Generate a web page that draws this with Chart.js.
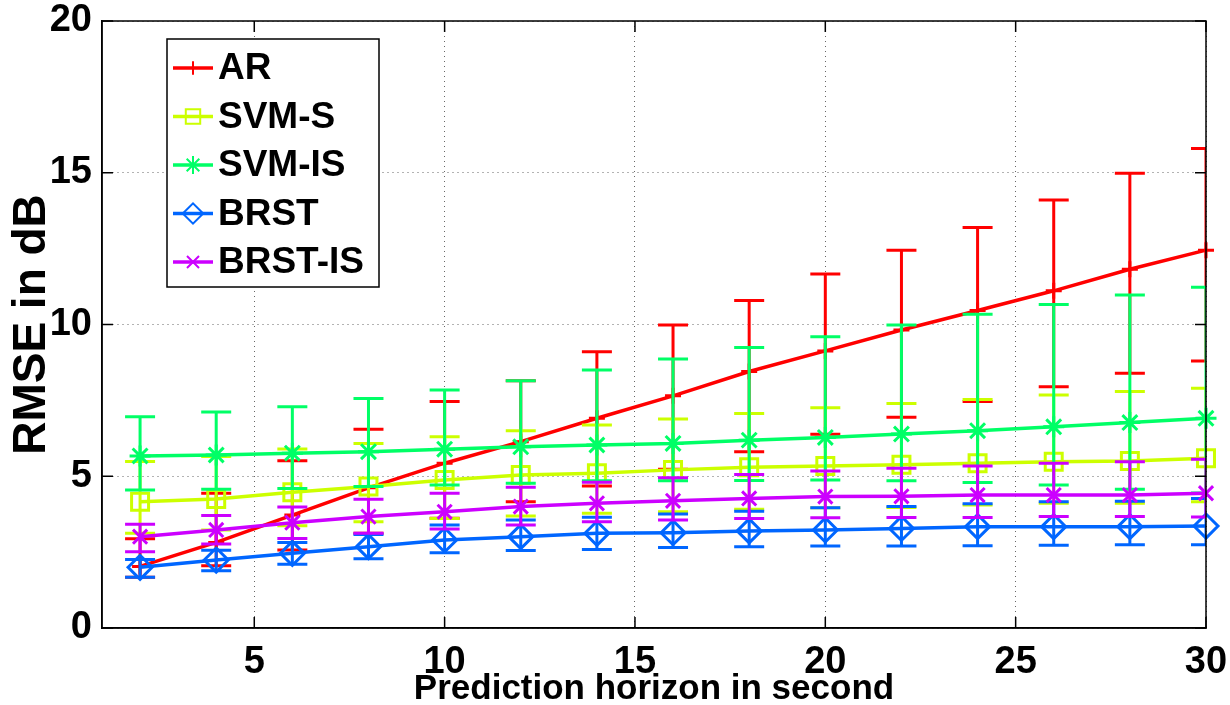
<!DOCTYPE html>
<html>
<head>
<meta charset="utf-8">
<script src="https://cdn.jsdelivr.net/npm/chart.js@4.4.0/dist/chart.umd.min.js"></script>
<style>
  html, body { margin: 0; padding: 0; background: #fff; }
  #wrap { width: 1230px; height: 705px; }
</style>
</head>
<body>
<div id="wrap"><canvas id="rmseChart" width="1230" height="705"></canvas></div>
<script>
// prediction horizon (s)
const horizon = [2, 4, 6, 8, 10, 12, 14, 16, 18, 20, 22, 24, 26, 28, 30];
const xTicks = [5, 10, 15, 20, 25, 30];
const yTicks = [0, 5, 10, 15, 20];

const names = ["AR", "SVM-S", "SVM-IS", "BRST", "BRST-IS"];
const colors = ["#ff0000", "#ccff00", "#00ff66", "#0066ff", "#cc00ff"];

// RMSE means and error bar ends
const arMean = [2.03, 2.82, 3.72, 4.62, 5.43, 6.14, 6.91, 7.65, 8.45, 9.13, 9.82, 10.46, 11.11, 11.82, 12.45];
const arHigh = [2.94, 4.44, 5.51, 6.55, 7.46, 8.15, 9.10, 9.98, 10.79, 11.66, 12.45, 13.20, 14.10, 14.98, 15.80];
const arLow = [1.67, 2.05, 2.57, 3.12, 3.62, 4.16, 4.68, 5.23, 5.81, 6.38, 6.94, 7.46, 7.95, 8.39, 8.80];

const svmsMean = [4.16, 4.25, 4.47, 4.66, 4.88, 5.04, 5.10, 5.21, 5.30, 5.34, 5.38, 5.43, 5.48, 5.50, 5.59];
const svmsHigh = [5.49, 5.65, 5.90, 6.08, 6.30, 6.50, 6.69, 6.89, 7.07, 7.26, 7.40, 7.53, 7.68, 7.79, 7.90];
const svmsLow = [3.12, 3.23, 3.37, 3.50, 3.61, 3.69, 3.78, 3.83, 3.91, 3.96, 3.97, 4.05, 4.11, 4.11, 4.16];

const svmisMean = [5.67, 5.70, 5.76, 5.81, 5.89, 5.97, 6.03, 6.08, 6.19, 6.28, 6.39, 6.50, 6.63, 6.77, 6.91];
const svmisHigh = [6.96, 7.12, 7.29, 7.56, 7.84, 8.15, 8.50, 8.86, 9.24, 9.60, 9.98, 10.34, 10.66, 10.97, 11.23];
const svmisLow = [4.55, 4.57, 4.60, 4.66, 4.71, 4.77, 4.85, 4.85, 4.86, 4.88, 4.85, 4.79, 4.71, 4.57, 4.45];

const brstMean = [2.00, 2.24, 2.46, 2.68, 2.90, 3.01, 3.12, 3.14, 3.20, 3.23, 3.28, 3.34, 3.34, 3.34, 3.36];
const brstHigh = [2.26, 2.56, 2.82, 3.08, 3.39, 3.56, 3.65, 3.76, 3.85, 3.96, 4.00, 4.09, 4.16, 4.18, 4.27];
const brstLow = [1.67, 1.89, 2.10, 2.28, 2.48, 2.55, 2.59, 2.65, 2.68, 2.70, 2.70, 2.71, 2.73, 2.74, 2.74];

const brstisMean = [3.01, 3.23, 3.47, 3.67, 3.83, 4.00, 4.11, 4.19, 4.27, 4.33, 4.34, 4.38, 4.38, 4.38, 4.44];
const brstisHigh = [3.42, 3.71, 3.99, 4.24, 4.44, 4.64, 4.80, 4.95, 5.06, 5.17, 5.26, 5.34, 5.43, 5.48, 5.56];
const brstisLow = [2.51, 2.77, 2.95, 3.12, 3.26, 3.39, 3.50, 3.56, 3.61, 3.63, 3.64, 3.64, 3.67, 3.67, 3.66];

const FONT = "'Liberation Sans', Arial, Helvetica, sans-serif";

function series(i, mean, low, high, style, radius) {
  return {
    label: names[i],
    data: horizon.map((h, k) => ({ x: h, y: mean[k] })),
    errLow: low,
    errHigh: high,
    borderColor: colors[i],
    backgroundColor: "rgba(0,0,0,0)",
    borderWidth: 3.5,
    pointStyle: style,
    pointRadius: radius,
    pointBorderWidth: 3,
    pointBorderColor: colors[i],
    pointBackgroundColor: "rgba(0,0,0,0)",
    tension: 0,
    fill: false,
    clip: false,
    order: names.length - i,
  };
}

// vertical error bars with caps, drawn right before each line
const errorBars = {
  id: "errorBars",
  beforeDatasetDraw(chart, args) {
    const ds = chart.data.datasets[args.index];
    if (!ds.errLow) return;
    const { ctx, chartArea: a } = chart;
    const xs = chart.scales.x, ys = chart.scales.y;
    ctx.save();
    ctx.beginPath();
    ctx.rect(a.left, a.top, a.right - a.left, a.bottom - a.top);
    ctx.clip();
    ctx.strokeStyle = ds.borderColor;
    ctx.lineWidth = 3;
    ds.data.forEach((p, k) => {
      const px = xs.getPixelForValue(p.x);
      const top = ys.getPixelForValue(ds.errHigh[k]);
      const bot = ys.getPixelForValue(ds.errLow[k]);
      ctx.beginPath();
      ctx.moveTo(px, top); ctx.lineTo(px, bot);
      ctx.moveTo(px - 15, top); ctx.lineTo(px + 15, top);
      ctx.moveTo(px - 15, bot); ctx.lineTo(px + 15, bot);
      ctx.stroke();
    });
    ctx.restore();
  },
};

// matlab style box with inward ticks, plus the boxed legend
const frameAndLegend = {
  id: "frameAndLegend",
  afterDraw(chart) {
    const { ctx, chartArea: a } = chart;
    const xs = chart.scales.x, ys = chart.scales.y;
    ctx.save();
    ctx.strokeStyle = "#000";
    ctx.lineWidth = 1.5;
    ctx.strokeRect(a.left, a.top, a.right - a.left, a.bottom - a.top);
    ctx.beginPath();
    xTicks.forEach(v => {
      const px = xs.getPixelForValue(v);
      ctx.moveTo(px, a.bottom); ctx.lineTo(px, a.bottom - 11);
      ctx.moveTo(px, a.top); ctx.lineTo(px, a.top + 11);
    });
    yTicks.forEach(v => {
      const py = ys.getPixelForValue(v);
      ctx.moveTo(a.left, py); ctx.lineTo(a.left + 11, py);
      ctx.moveTo(a.right, py); ctx.lineTo(a.right - 11, py);
    });
    ctx.stroke();

    const left = a.left + 65, top = a.top + 18, w = 212, h = 248;
    ctx.fillStyle = "#fff";
    ctx.fillRect(left, top, w, h);
    ctx.strokeRect(left, top, w, h);
    chart.data.datasets.forEach((ds, i) => {
      const cy = top + 29 + i * 48.5;
      ctx.strokeStyle = ds.borderColor;
      ctx.lineWidth = 3.5;
      ctx.beginPath();
      ctx.moveTo(left + 6, cy); ctx.lineTo(left + 46, cy);
      ctx.stroke();
      ctx.lineWidth = 2;
      ctx.fillStyle = "rgba(0,0,0,0)";
      Chart.helpers.drawPoint(ctx, {
        pointStyle: ds.pointStyle,
        radius: ds.pointRadius * 0.85,
        borderWidth: 2,
        rotation: 0,
      }, left + 26, cy);
      ctx.fillStyle = "#000";
      ctx.font = "bold 37px " + FONT;
      ctx.textBaseline = "middle";
      ctx.textAlign = "left";
      ctx.fillText(ds.label, left + 51, cy + 1);
    });
    ctx.restore();
  },
};

const ctx = document.getElementById("rmseChart").getContext("2d");

new Chart(ctx, {
  type: "line",
  data: {
    datasets: [
      series(0, arMean, arLow, arHigh, "cross", 8),
      series(1, svmsMean, svmsLow, svmsHigh, "rect", 12),
      series(2, svmisMean, svmisLow, svmisHigh, "star", 10.5),
      series(3, brstMean, brstLow, brstHigh, "rectRot", 12),
      series(4, brstisMean, brstisLow, brstisHigh, "crossRot", 10),
    ],
  },
  options: {
    responsive: false,
    devicePixelRatio: 1,
    animation: false,
    layout: { padding: { top: 21, right: 24, left: 0, bottom: 0 } },
    plugins: {
      legend: { display: false },
      tooltip: { enabled: false },
    },
    scales: {
      x: {
        type: "linear",
        min: 1,
        max: 30,
        afterBuildTicks: s => { s.ticks = xTicks.map(v => ({ value: v })); },
        afterFit: s => { s.height = 77; s.paddingLeft = 0; s.paddingRight = 0; },
        grid: { color: "rgba(0,0,0,0.6)", lineWidth: 1, drawTicks: false },
        border: { display: true, color: "#000", width: 1.5, dash: [1, 4] },
        ticks: { color: "#000", font: { family: FONT, size: 38, weight: "bold" }, padding: 12, maxRotation: 0 },
        title: {
          display: true,
          text: "Prediction horizon in second",
          color: "#000",
          font: { family: FONT, size: 35, weight: "bold", lineHeight: 0.9 },
          padding: { top: 0, bottom: 0 },
        },
      },
      y: {
        type: "linear",
        min: 0,
        max: 20,
        afterBuildTicks: s => { s.ticks = yTicks.map(v => ({ value: v })); },
        afterFit: s => { s.width = 102; s.paddingTop = 0; s.paddingBottom = 0; },
        grid: { color: "rgba(0,0,0,0.6)", lineWidth: 1, drawTicks: false },
        border: { display: true, color: "#000", width: 1.5, dash: [1, 4] },
        ticks: { color: "#000", font: { family: FONT, size: 38, weight: "bold" }, padding: 10 },
        title: {
          display: true,
          text: "RMSE in dB",
          color: "#000",
          font: { family: FONT, size: 46, weight: "bold", lineHeight: 1 },
          padding: { top: 9, bottom: 0 },
        },
      },
    },
  },
  plugins: [errorBars, frameAndLegend],
});
</script>
</body>
</html>
